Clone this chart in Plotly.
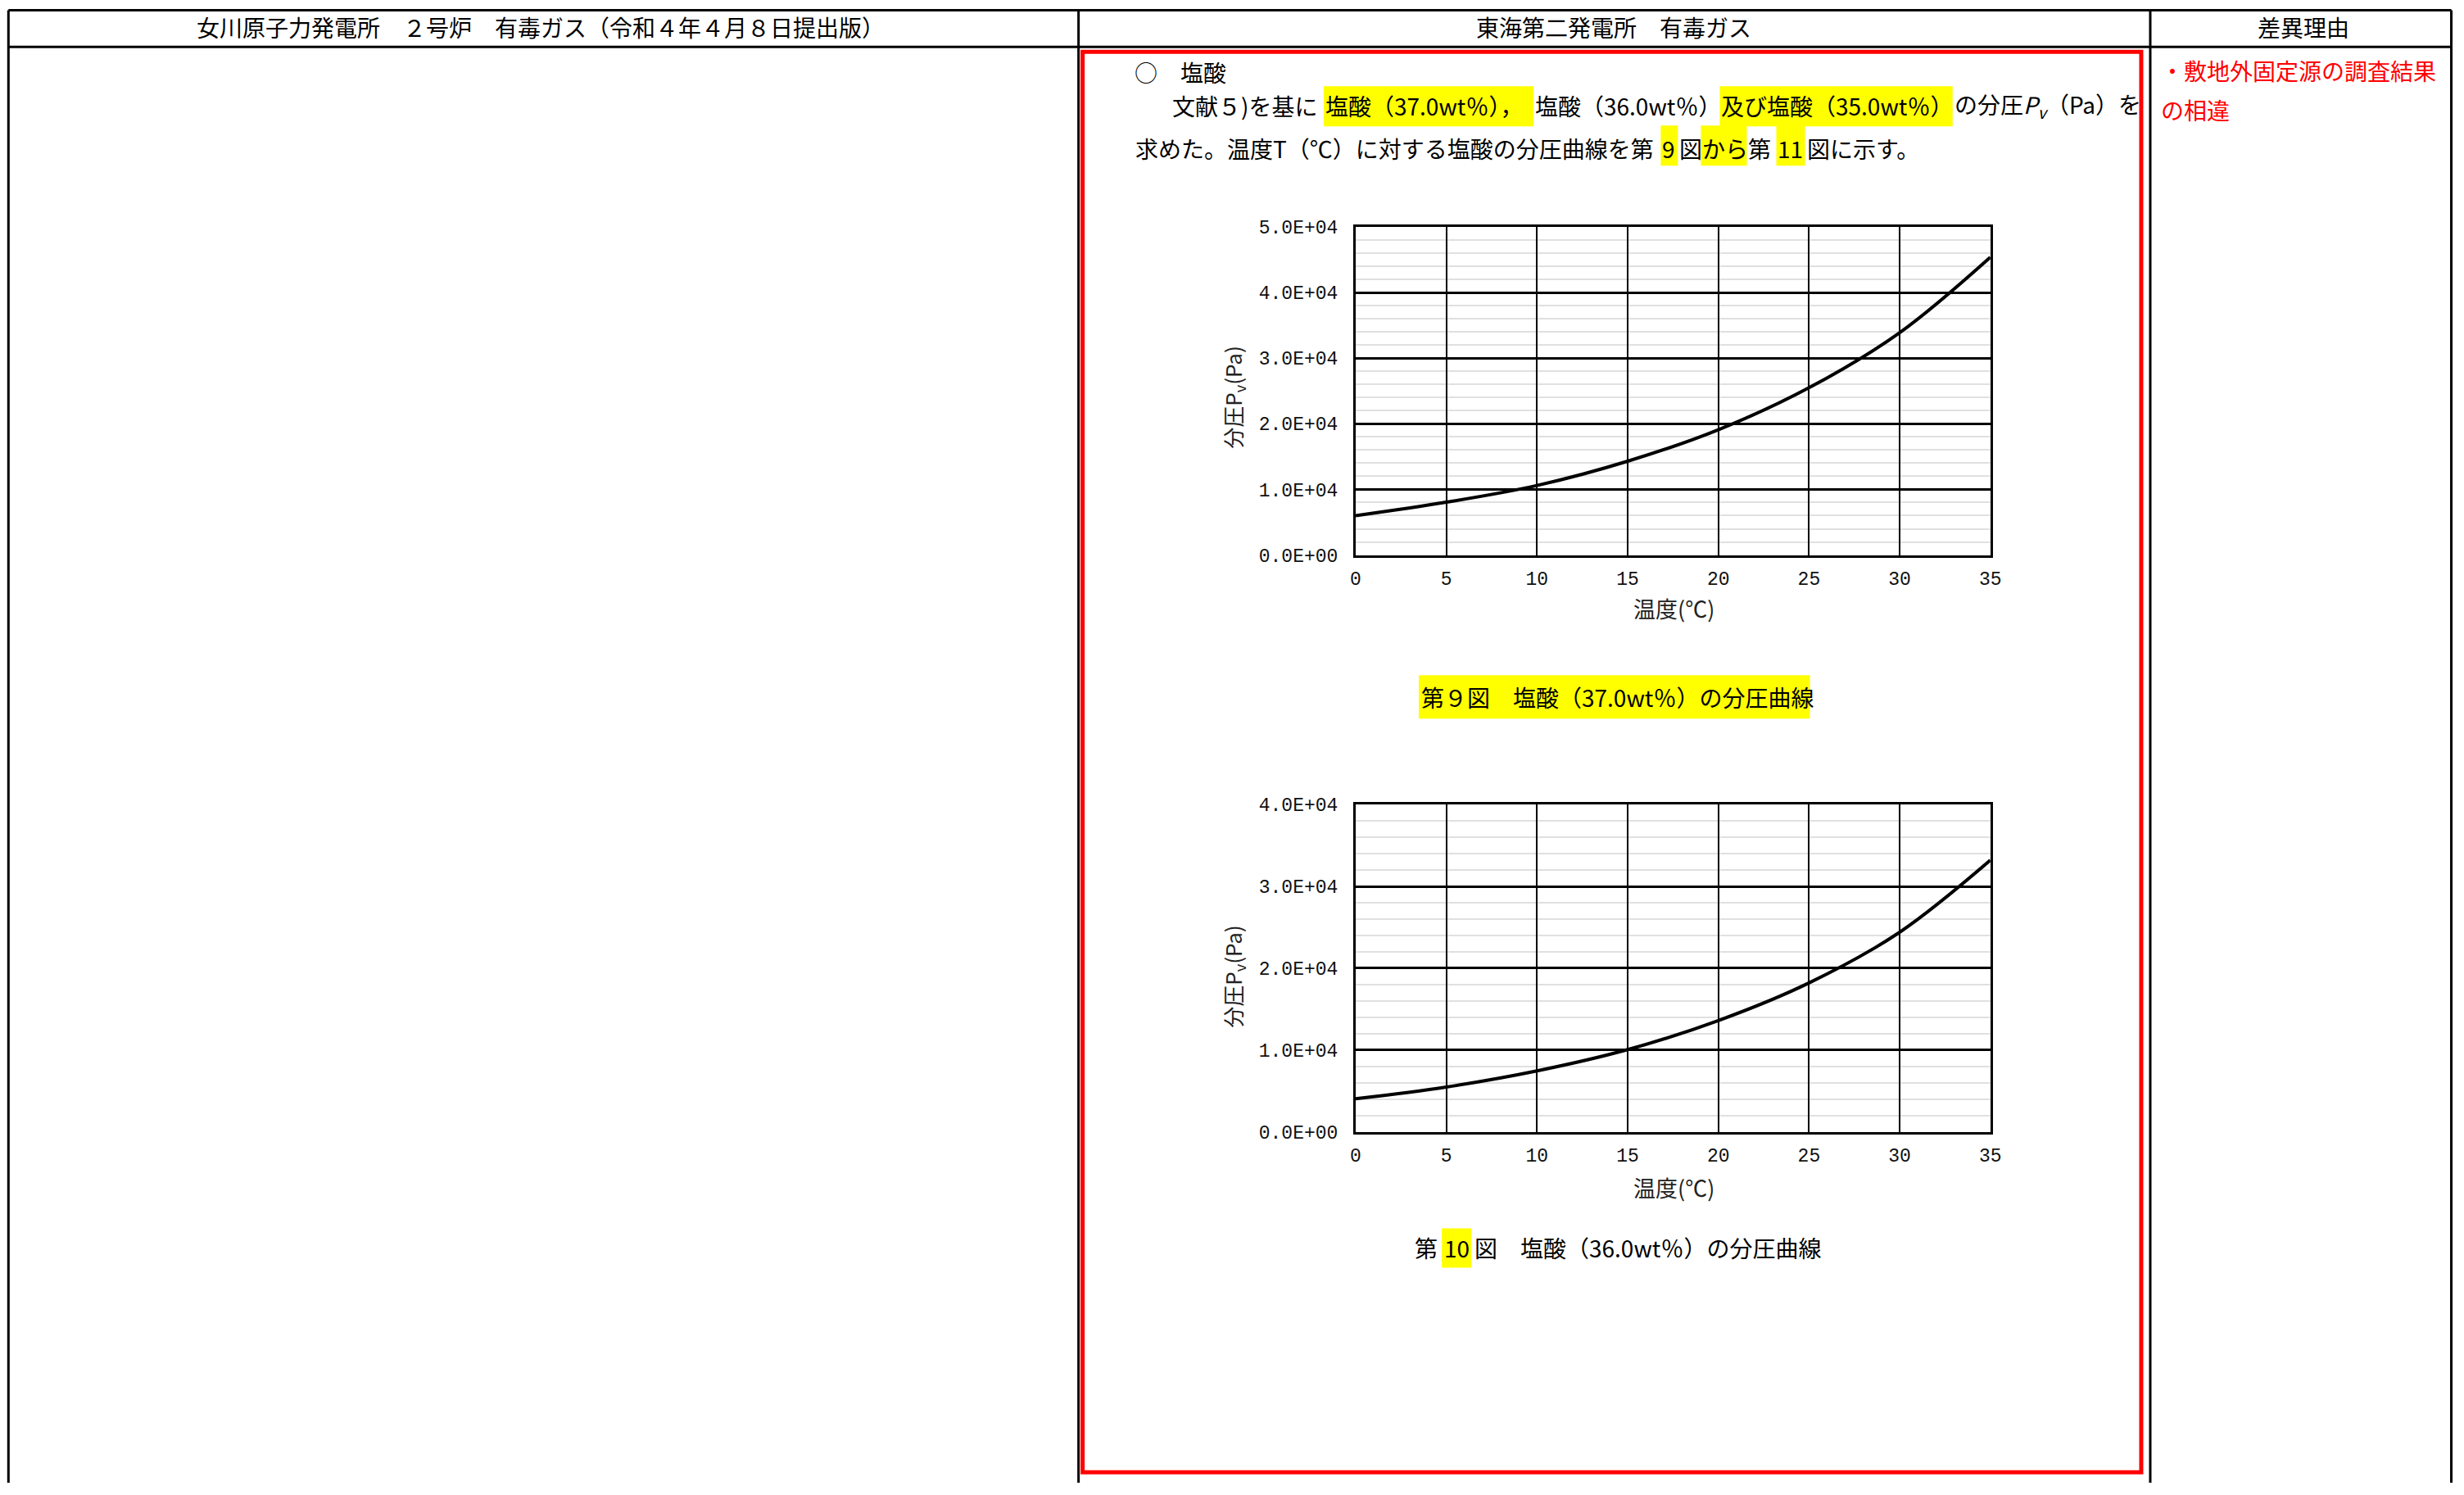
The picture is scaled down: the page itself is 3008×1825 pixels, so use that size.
import plotly.graph_objects as go

W, H = 3008, 1825

# ---------------- data ----------------
temperature_c = [0, 5, 10, 15, 20, 25, 30, 35]
pressure_hcl_37 = [6000, 8050, 10600, 14300, 19100, 25500, 33900, 45400]
pressure_hcl_36 = [4050, 5480, 7450, 10050, 13600, 18200, 24400, 33200]

x_ticks = [0, 5, 10, 15, 20, 25, 30, 35]
y_ticks_fig9 = [0, 10000, 20000, 30000, 40000, 50000]
y_ticklabels_fig9 = ["0.0E+00", "1.0E+04", "2.0E+04", "3.0E+04", "4.0E+04", "5.0E+04"]
y_ticks_fig10 = [0, 10000, 20000, 30000, 40000]
y_ticklabels_fig10 = ["0.0E+00", "1.0E+04", "2.0E+04", "3.0E+04", "4.0E+04"]

header_left = "女川原子力発電所　２号炉　有毒ガス（令和４年４月８日提出版）"
header_mid = "東海第二発電所　有毒ガス"
header_right = "差異理由"

CJK = "Noto Sans CJK JP"
MONO = "Liberation Mono"

# layout helpers: target pixel position on the photographed page -> paper fraction
AX, SX = 7.7, 0.992
AY, SY = 9.6, 0.987


def cx(x):
    return min(max((x - AX) / SX, 1.5), W - 1.5)


def cy(y):
    return min(max((y - AY) / SY, 1.5), H)


def px(x):
    return cx(x) / W


def py(y):
    return 1 - cy(y) / H


fig = go.Figure()

fig.add_trace(go.Scatter(x=temperature_c, y=pressure_hcl_37, mode="lines",
                         line=dict(color="black", width=4, shape="spline"),
                         xaxis="x", yaxis="y", showlegend=False, hoverinfo="skip"))
fig.add_trace(go.Scatter(x=temperature_c, y=pressure_hcl_36, mode="lines",
                         line=dict(color="black", width=4, shape="spline"),
                         xaxis="x2", yaxis="y2", showlegend=False, hoverinfo="skip"))


def xaxis_cfg(anchor):
    return dict(domain=[px(1654), px(2428)], range=[0, 35], tickvals=x_ticks, anchor=anchor,
                showgrid=True, gridcolor="black", gridwidth=2,
                showline=True, linecolor="black", linewidth=3, mirror=True,
                zeroline=False, ticks="", ticklabelstandoff=6,
                tickfont=dict(family=MONO, size=23, color="#111"), fixedrange=True)


def yaxis_cfg(top, bottom, rng, tv, tt, anchor):
    return dict(domain=[py(bottom), py(top)], range=rng, tickvals=tv, ticktext=tt,
                showgrid=True, gridcolor="black", gridwidth=3,
                minor=dict(dtick=2000, tick0=0, showgrid=True, gridcolor="#e0e0e0", gridwidth=2),
                showline=True, linecolor="black", linewidth=3, mirror=True,
                zeroline=False, ticks="", ticklabelstandoff=14, anchor=anchor,
                tickfont=dict(family=MONO, size=23, color="#111"), fixedrange=True)


fig.update_layout(
    width=W, height=H, margin=dict(l=0, r=0, t=0, b=0),
    paper_bgcolor="white", plot_bgcolor="white",
    xaxis=xaxis_cfg("y"),
    yaxis=yaxis_cfg(276, 677, [0, 50000], y_ticks_fig9, y_ticklabels_fig9, "x"),
    xaxis2=xaxis_cfg("y2"),
    yaxis2=yaxis_cfg(982, 1382, [0, 40000], y_ticks_fig10, y_ticklabels_fig10, "x2"),
    modebar=dict(bgcolor="rgba(0,0,0,0)", color="rgba(0,0,0,0)", activecolor="rgba(0,0,0,0)"),
)

shapes = []


def line(x0, y0, x1_, y1_, color="black", width=3):
    shapes.append(dict(type="line", xref="paper", yref="paper",
                       x0=px(x0), y0=py(y0), x1=px(x1_), y1=py(y1_),
                       line=dict(color=color, width=width), layer="above"))


def hl(x0, y0, x1_, y1_):
    shapes.append(dict(type="rect", xref="paper", yref="paper",
                       x0=px(x0), y0=py(y0), x1=px(x1_), y1=py(y1_),
                       fillcolor="#ffff00", line=dict(width=0), layer="below"))


# table frame
line(11, 7, 2999, 7)
line(11, 56, 2999, 56)
line(11, 7, 11, 1840)
line(1316, 7, 1316, 1840)
line(2623, 7, 2623, 1840)
line(2998, 7, 2998, 1840)

# red box
shapes.append(dict(type="rect", xref="paper", yref="paper",
                   x0=px(1321), y0=py(1798), x1=px(2612), y1=py(62),
                   line=dict(color="#ff0000", width=5), layer="above"))

# highlights
hl(1615, 104, 1871, 153)
hl(2098, 104, 2382, 153)
hl(2026, 152, 2047, 201)
hl(2075, 152, 2131, 201)
hl(2167, 152, 2202, 201)
hl(1731, 824, 2208, 877)
hl(1759, 1500, 1795, 1548)

fig.update_layout(shapes=shapes)

ann = []


def text(t, x, y, size=28, color="black", xanchor="left", angle=0, family=CJK):
    ann.append(dict(text=t, x=px(x), y=py(y), xref="paper", yref="paper",
                    xanchor=xanchor, yanchor="middle", showarrow=False,
                    textangle=angle, font=dict(family=family, size=size, color=color)))


# headers
text(header_left, 660, 32, size=28, xanchor="center")
text(header_mid, 1969, 32, size=28, xanchor="center")
text(header_right, 2810, 32, size=28, xanchor="center")

# body text
text("○　塩酸", 1382, 87)
text("文献５)を基に", 1428, 128)
text("塩酸（37.0wt％），", 1615, 128)
text("塩酸（36.0wt％）", 1871, 128)
text("及び塩酸（35.0wt％）", 2098, 128)
text("の分圧<i>P<sub>v</sub></i>（Pa）を", 2382, 128)

text("求めた。温度T（℃）に対する塩酸の分圧曲線を第", 1383, 180)
text("9", 2036, 180, xanchor="center")
text("図", 2047, 180)
text("から", 2075, 180)
text("第", 2131, 180)
text("11", 2184, 180, xanchor="center")
text("図に示す。", 2202, 180)

# right column
text("・敷地外固定源の調査結果", 2634, 85, color="#ff0000")
text("の相違", 2634, 133, color="#ff0000")

# axis titles
text("分圧P<sub>v</sub>(Pa)", 1505, 484, size=26, xanchor="center", angle=-90, color="#222")
text("温度(℃)", 2042, 742, size=27, xanchor="center", color="#222")
text("分圧P<sub>v</sub>(Pa)", 1505, 1192, size=26, xanchor="center", angle=-90, color="#222")
text("温度(℃)", 2042, 1450, size=27, xanchor="center", color="#222")

# captions
text("第９図　塩酸（37.0wt％）の分圧曲線", 1732, 851)
text("第", 1724, 1524)
text("10", 1777, 1524, xanchor="center")
text("図　塩酸（36.0wt％）の分圧曲線", 1797, 1524)

fig.update_layout(annotations=ann)

# remove the default page margin so the figure sits exactly in the window
fig.write_html(
    "out.html",
    config={"displayModeBar": False},
    post_script="document.body.style.margin='0px';"
                "document.documentElement.style.overflow='hidden';"
                "document.body.style.overflow='hidden';",
)
